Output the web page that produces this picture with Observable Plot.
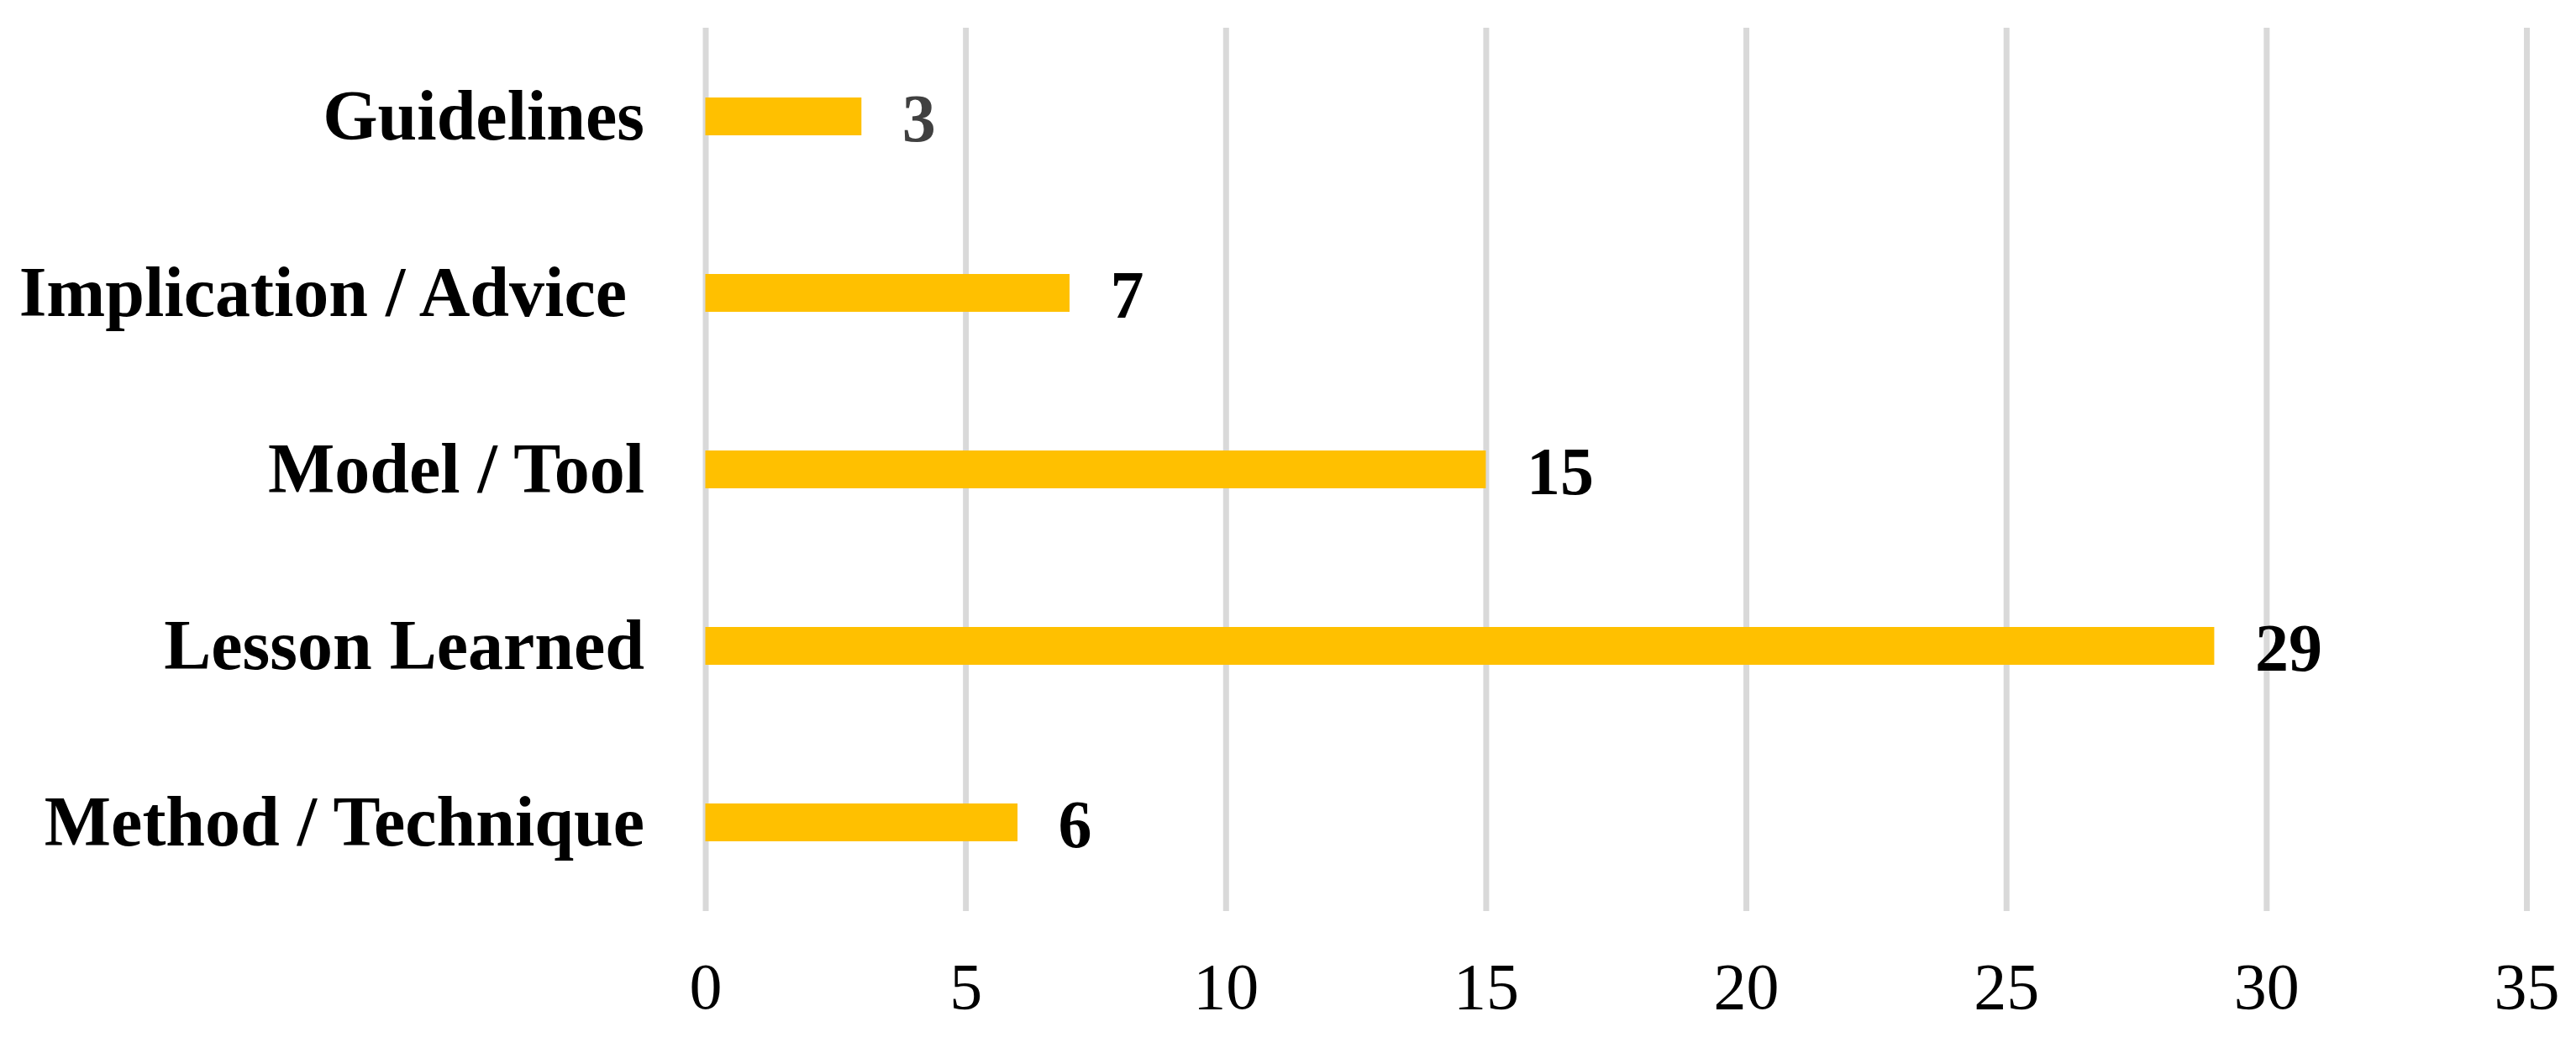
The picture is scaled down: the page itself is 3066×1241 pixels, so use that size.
<!DOCTYPE html>
<html>
<head>
<meta charset="utf-8">
<script src="https://cdn.jsdelivr.net/npm/d3@7"></script>
<script src="https://cdn.jsdelivr.net/npm/@observablehq/plot@0.6"></script>
<style>
  html, body { margin: 0; padding: 0; background: #fff; }
  svg { display: block; }
  svg text { white-space: pre; }
</style>
</head>
<body>
<div id="chart"></div>
<script>
const categories = ["Guidelines", "Implication / Advice ", "Model / Tool", "Lesson Learned", "Method / Technique"];
const counts = [3, 7, 15, 29, 6];
const labelColors = ["#404040", "#000000", "#000000", "#000000", "#000000"];
const xTicks = [0, 5, 10, 15, 20, 25, 30, 35];

const data = categories.map((c, i) => ({ category: c, count: counts[i], labelColor: labelColors[i] }));

const chart = Plot.plot({
  width: 3066,
  height: 1241,
  marginTop: 33,
  marginBottom: 157,
  marginLeft: 839.5,
  marginRight: 59,
  style: { fontFamily: "'Liberation Serif', 'Times New Roman', serif", background: "#fff", color: "#000" },
  x: { domain: [0, 35], ticks: xTicks },
  y: { domain: categories, paddingInner: 0.786, paddingOuter: 0.393 },
  color: { type: "identity" },
  marks: [
    Plot.gridX(xTicks, { stroke: "#d9d9d9", strokeWidth: 7, strokeOpacity: 1 }),
    Plot.barX(data, { x: "count", y: "category", fill: "#FFC000" }),
    Plot.text(data, {
      x: "count", y: "category", text: d => String(d.count),
      textAnchor: "start", dx: 48, dy: 3,
      fontSize: 80, fontWeight: "bold", fill: d => d.labelColor
    }),
    Plot.axisX(xTicks, { tickSize: 0, tickPadding: 60, fontSize: 78, fill: "#000", label: null }),
    Plot.axisY({ tickSize: 0, tickPadding: 73, fontSize: 84, fontWeight: "bold", fill: "#000", label: null })
  ]
});
document.getElementById("chart").append(chart);
</script>
</body>
</html>
